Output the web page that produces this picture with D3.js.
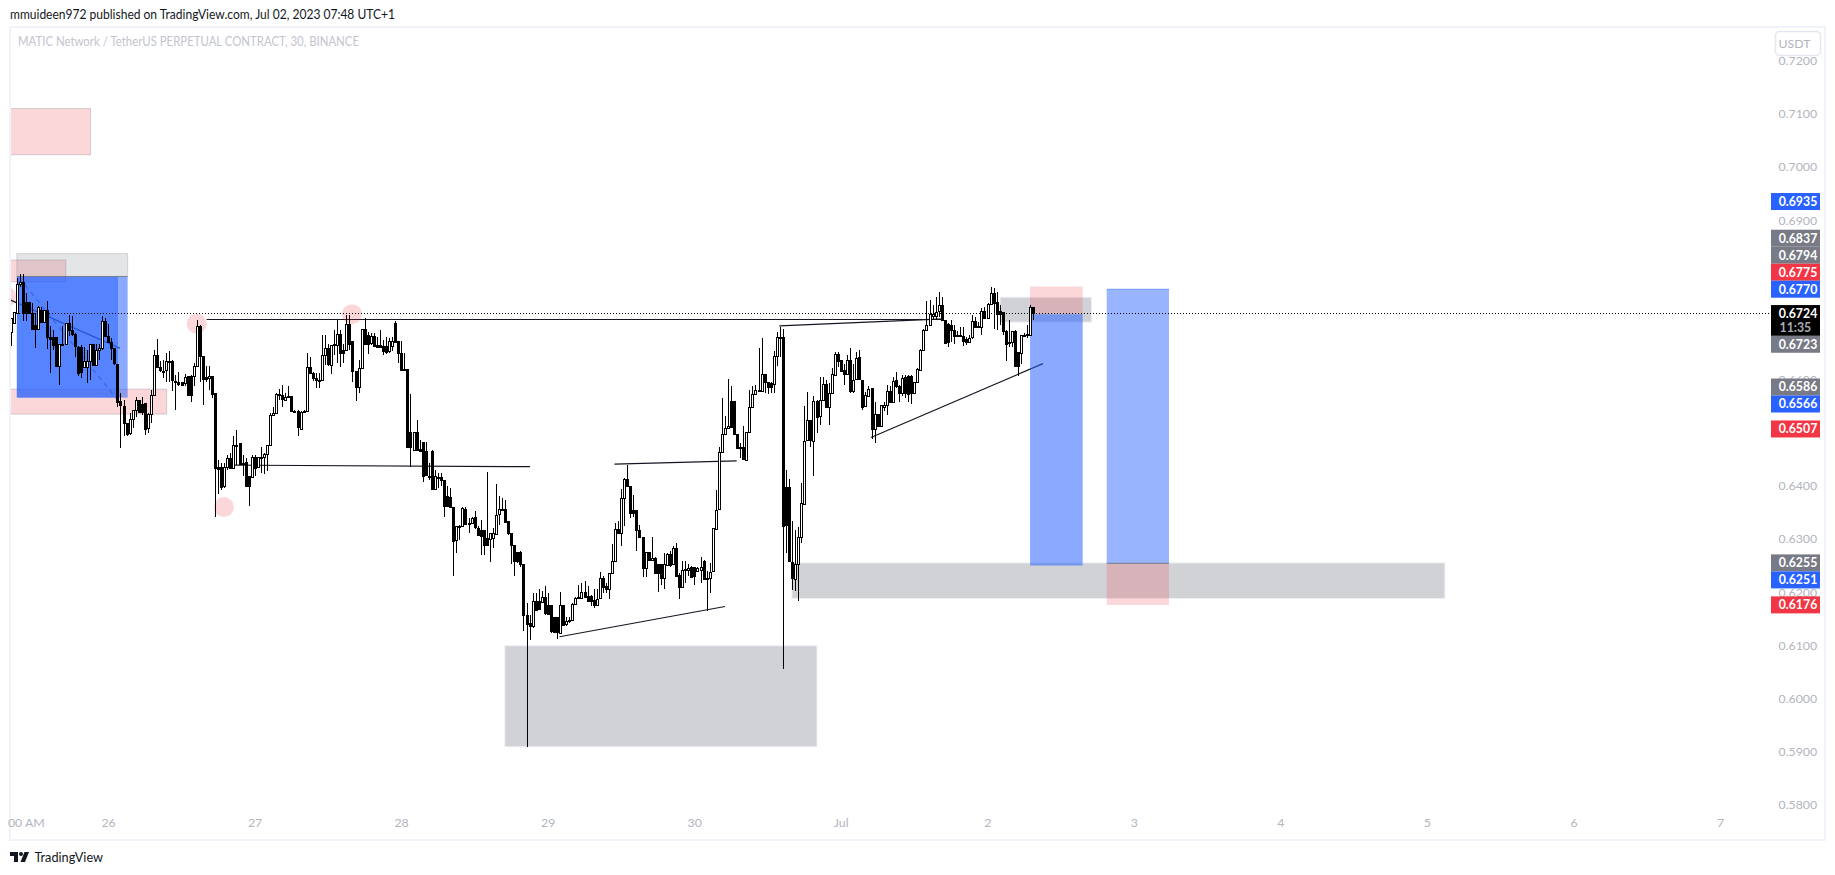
<!DOCTYPE html>
<html><head><meta charset="utf-8">
<script src="https://cdn.jsdelivr.net/npm/d3@7"></script>
<style>html,body{margin:0;padding:0;background:#fff;overflow:hidden}svg{display:block}text{font-family:Lato,Roboto,sans-serif}</style>
</head><body><svg id="c" width="1835" height="875"></svg>
<script>
// OHLC in units of 0.0001 USDT, 30-minute candles from Jun 25 late to Jul 2
const opens = [6688,6706,6725,6779,6783,6746,6746,6725,6703,6695,6731,6708,6730,6680,6680,6680,6625,6665,6667,6706,
6693,6685,6662,6662,6623,6623,6635,6667,6628,6656,6659,6710,6682,6670,6659,6630,6559,6551,6519,6499,
6525,6542,6561,6554,6556,6509,6536,6571,6646,6623,6615,6617,6633,6634,6598,6595,6595,6593,6606,6606,
6606,6625,6701,6645,6604,6604,6607,6574,6436,6436,6399,6435,6452,6433,6476,6480,6443,6444,6418,6418,
6455,6435,6452,6454,6460,6477,6534,6537,6572,6570,6562,6568,6569,6541,6540,6507,6539,6540,6623,6612,
6603,6598,6599,6646,6659,6628,6665,6665,6685,6656,6656,6705,6672,6616,6585,6621,6695,6684,6668,6682,
6665,6665,6663,6663,6653,6662,6707,6672,6650,6620,6620,6502,6469,6502,6470,6483,6465,6416,
6465,6394,6415,6416,6411,6380,6379,6361,6297,6324,6324,6357,6330,6330,6341,6320,6317,6317,6302,6299,
6302,6311,6346,6355,6356,6333,6311,6289,6275,6275,6253,6157,6142,6136,6183,6183,6181,6191,6175,6175,
6153,6153,6124,6176,6139,6145,6147,6178,6189,6190,6201,6193,6193,6186,6176,6188,6226,6211,6205,6236,
6258,6319,6311,6377,6413,6399,6355,6354,6317,6304,6245,6275,6260,6264,6252,6252,6226,6252,6272,6253,
6283,6233,6210,6242,6242,6247,6247,6239,6242,6258,6226,6225,
6239,6320,6355,6463,6497,6509,6560,6560,6498,6473,6473,6450,6502,6549,6573,6580,6579,6611,6596,6593,6592,6645,6680,
6681,6397,6397,6257,6224,6252,6303,6367,6485,6523,6485,6560,6530,6561,6591,6548,6574,6610,6649,6637,
6618,6610,6637,6579,6600,6642,6600,6549,6570,6585,6506,6535,6513,6550,6552,6579,6558,6599,6587,6574,
6604,6607,6607,6575,6595,6619,6656,6694,6703,6721,6721,6728,6740,6712,6704,6703,6693,6684,6682,6682,
6677,6671,6679,6710,6699,6699,6729,6716,6743,6763,6746,6729,6728,6692,6668,6670,6691,6652,6651,6683,6683,6684,6736];
const highs = [6715,6727,6791,6799,6799,6762,6746,6744,6725,6739,6737,6731,6747,6701,6694,6680,6667,6701,6706,6722,
6720,6687,6664,6665,6662,6656,6667,6667,6667,6667,6719,6715,6705,6678,6659,6630,6574,6562,6519,6537,
6543,6568,6562,6568,6556,6537,6581,6656,6676,6634,6637,6650,6653,6637,6609,6615,6596,6611,6606,6609,
6632,6712,6703,6645,6625,6625,6607,6574,6449,6443,6443,6458,6462,6493,6505,6480,6458,6452,6418,6458,
6458,6454,6474,6462,6477,6537,6549,6574,6582,6590,6574,6588,6569,6543,6543,6540,6542,6650,6643,6615,
6612,6612,6684,6684,6667,6665,6694,6712,6694,6667,6722,6722,6672,6616,6637,6695,6715,6690,6687,6687,
6680,6694,6675,6681,6678,6681,6711,6672,6672,6650,6620,6573,6502,6523,6487,6483,6483,6443,
6467,6430,6425,6424,6411,6399,6396,6361,6324,6327,6360,6361,6339,6342,6353,6324,6336,6317,6426,6311,
6320,6404,6380,6377,6373,6333,6311,6289,6275,6278,6253,6179,6157,6198,6198,6205,6203,6212,6198,6176,
6154,6154,6200,6176,6154,6154,6179,6190,6214,6217,6221,6211,6195,6205,6205,6237,6230,6217,6236,6290,
6330,6333,6394,6415,6440,6399,6383,6354,6327,6304,6275,6275,6304,6267,6252,6252,6273,6273,6277,6287,
6292,6236,6258,6258,6252,6250,6248,6248,6267,6261,6239,6255,
6320,6393,6474,6565,6531,6601,6588,6560,6498,6480,6513,6502,6581,6588,6590,6659,6679,6611,6596,6596,6653,6690,6699,
6696,6430,6412,6334,6317,6323,6405,6550,6577,6523,6569,6561,6604,6604,6599,6593,6621,6651,6651,6637,
6630,6646,6659,6630,6652,6656,6600,6577,6587,6585,6558,6536,6552,6558,6590,6588,6604,6614,6590,6608,
6608,6608,6608,6596,6621,6657,6696,6748,6750,6740,6756,6765,6756,6713,6706,6712,6703,6691,6699,6699,
6681,6684,6721,6718,6709,6734,6736,6745,6775,6773,6765,6740,6728,6693,6712,6691,6693,6652,6684,6687,6703,6740,6736];
const lows = [6664,6706,6724,6775,6711,6711,6725,6694,6660,6694,6708,6708,6658,6613,6656,6625,6589,6665,6667,6682,
6682,6643,6606,6603,6623,6593,6599,6628,6625,6637,6656,6681,6668,6637,6628,6549,6472,6493,6493,6496,
6509,6530,6537,6534,6496,6499,6518,6569,6621,6615,6603,6596,6596,6578,6543,6587,6590,6587,6569,6557,
6587,6625,6596,6552,6596,6581,6565,6341,6385,6393,6396,6430,6433,6431,6440,6440,6418,6398,6362,6416,
6418,6433,6424,6423,6427,6477,6532,6537,6562,6549,6561,6565,6539,6537,6493,6505,6539,6539,6611,6598,
6584,6584,6599,6628,6625,6611,6646,6631,6623,6631,6655,6655,6596,6559,6574,6620,6665,6648,6665,6662,
6661,6659,6646,6648,6650,6653,6670,6631,6618,6617,6471,6436,6468,6467,6465,6408,6418,6411,
6393,6393,6396,6399,6342,6361,6361,6230,6273,6299,6324,6327,6312,6329,6319,6305,6270,6270,6287,6256,
6283,6310,6327,6354,6330,6308,6252,6230,6255,6248,6126,5909,6110,6132,6167,6166,6180,6157,6157,6123,
6123,6112,6123,6137,6137,6142,6145,6178,6189,6189,6192,6183,6174,6170,6175,6188,6198,6198,6188,6236,
6258,6310,6286,6324,6399,6339,6342,6277,6302,6228,6228,6258,6258,6235,6201,6214,6206,6252,6248,6252,
6230,6187,6208,6217,6230,6226,6214,6237,6217,6223,6164,6198,
6237,6317,6354,6462,6496,6507,6510,6496,6470,6452,6450,6449,6501,6546,6571,6579,6578,6574,6573,6574,6574,6625,6643,
6055,6273,6257,6204,6203,6184,6292,6367,6485,6474,6419,6500,6514,6561,6546,6514,6574,6608,6624,6615,
6590,6610,6574,6575,6599,6599,6543,6548,6568,6489,6480,6511,6511,6540,6533,6557,6556,6585,6558,6569,
6565,6558,6554,6574,6593,6618,6654,6693,6701,6712,6712,6718,6711,6668,6662,6671,6667,6681,6681,6663,
6665,6668,6677,6698,6698,6684,6715,6715,6743,6696,6693,6703,6684,6635,6662,6662,6626,6607,6630,6681,6679,6684,6713];
const closes = [6715,6727,6779,6783,6724,6725,6725,6695,6695,6737,6709,6731,6680,6677,6665,6625,6667,6667,6706,6692,
6685,6662,6614,6615,6635,6635,6667,6628,6656,6659,6710,6682,6670,6659,6630,6559,6551,6519,6499,6525,
6542,6561,6539,6539,6507,6536,6571,6646,6623,6617,6617,6634,6634,6598,6597,6591,6590,6604,6571,6571,
6625,6701,6645,6601,6601,6607,6574,6433,6433,6399,6435,6452,6433,6476,6477,6440,6441,6399,6399,6455,
6435,6454,6454,6460,6477,6534,6537,6572,6570,6562,6568,6569,6540,6539,6509,6539,6540,6623,6612,6603,
6599,6599,6646,6659,6628,6665,6667,6685,6650,6650,6705,6668,6616,6585,6621,6695,6667,6667,6682,6663,
6662,6662,6653,6651,6672,6672,6672,6650,6618,6618,6473,6473,6502,6468,6466,6419,6419,6418,
6394,6418,6416,6411,6363,6361,6361,6297,6324,6325,6358,6329,6329,6339,6322,6306,6305,6288,6289,6311,
6311,6346,6356,6356,6332,6311,6289,6258,6258,6252,6157,6141,6136,6183,6167,6168,6191,6161,6159,6126,
6124,6124,6176,6139,6145,6147,6178,6189,6190,6201,6192,6183,6183,6176,6188,6226,6210,6205,6236,6258,
6319,6311,6377,6413,6399,6349,6349,6317,6304,6245,6275,6260,6264,6236,6236,6226,6252,6272,6252,6283,
6230,6210,6242,6243,6245,6228,6230,6245,6248,6225,6225,6237,
6320,6355,6463,6497,6509,6512,6512,6498,6472,6471,6450,6502,6549,6573,6581,6581,6611,6596,6586,6586,6645,6681,6681,
6325,6325,6257,6226,6252,6303,6367,6485,6523,6485,6560,6530,6561,6591,6548,6574,6610,6649,6635,6617,
6610,6637,6579,6599,6640,6600,6549,6570,6583,6508,6535,6513,6552,6553,6579,6558,6598,6587,6574,6602,
6574,6573,6575,6595,6619,6656,6694,6703,6724,6724,6728,6740,6712,6669,6671,6693,6682,6682,6684,6673,
6671,6679,6710,6699,6701,6729,6716,6743,6763,6745,6724,6724,6692,6668,6670,6691,6626,6626,6684,6684,6685,6736,6724];

const firstCandleDay = 25.335;           // day-of-month position of the first candle
const priceTicks = [0.72,0.71,0.70,0.69,0.68,0.67,0.66,0.65,0.64,0.63,0.62,0.61,0.60,0.59,0.58];
const dayTicks  = [25.439,26,27,28,29,30,31,32,33,34,35,36,37];
const dayLabels = ["00 AM","26","27","28","29","30","Jul","2","3","4","5","6","7"];

// [dayStart, dayEnd, priceTop, priceBottom]
const greyZones  = [[28.708,30.838,0.6099,0.5909],[30.667,35.123,0.6255,0.6188],[32.087,32.712,0.6755,0.6708]];
const lightGrey  = [[25.378,26.134,0.6837,0.6794]];
const pinkZones  = [[25.3,25.881,0.7110,0.7023],[25.3,25.712,0.6825,0.6784],[25.3,26.4,0.6582,0.6535]];
const blueBoxes  = [[25.378,26.134,0.6794,0.6566],[25.378,26.068,0.6794,0.6566],[32.292,32.651,0.6723,0.6250],[32.815,33.24,0.6770,0.6254]];
const redBoxes   = [[32.292,32.651,0.6775,0.6723],[32.815,33.24,0.6254,0.6176]];
const circleMarks = [[26.605,0.6705],[27.665,0.6723],[26.791,0.6360],[25.305,0.6756]];
// [day1, price1, day2, price2]
const trendLines = [[26.673,0.6713,31.69,0.6713],[30.581,0.6701,31.70,0.6714],[26.852,0.6439,28.88,0.6436],
                    [29.456,0.6441,30.29,0.6447],[29.081,0.6116,30.21,0.6173],[31.206,0.6491,32.38,0.6630],[25.332,0.6750,26.082,0.6659]];
const dashedLines = [[25.434,0.6778,26.055,0.6565]];

const lastPrice = 0.6724;
const countdown = "11:35";
const badgePrices = [0.6935,0.6837,0.6794,0.6775,0.6770,0.6723,0.6586,0.6566,0.6507,0.6255,0.6251,0.6176];
const badgeKinds  = ["b","g","g","r","b","g","g","b","r","g","b","r"];

const BLUE="#2962ff",RED="#f23645",GREY="#787b86",AXIS="#b2b5be",FRAME="#f0f3fa",INK="#131722";
const badgeColor={b:BLUE,g:GREY,r:RED};
const L=10,T=27,R=1825,B=840,AX=1771;

const svg=d3.select("#c");
const x=d3.scaleLinear().domain([26,37]).range([108,1720]);
const y=d3.scaleLinear().domain([0.72,0.58]).range([60.7,804.7]);

svg.append("defs").append("clipPath").attr("id","pane").append("rect").attr("x",L+1).attr("y",T).attr("width",AX-L-1).attr("height",B-T);

// header
svg.append("text").attr("x",10).attr("y",19.3).attr("font-size",13).attr("fill",INK)
  .attr("textLength",385).attr("lengthAdjust","spacingAndGlyphs")
  .text("mmuideen972 published on TradingView.com, Jul 02, 2023 07:48 UTC+1");

// frame
svg.append("rect").attr("x",L).attr("y",T).attr("width",R-L).attr("height",B-T).attr("fill","#fff").attr("stroke",FRAME).attr("stroke-width",2);

svg.append("text").attr("x",18).attr("y",46).attr("font-size",13).attr("fill","#c3c5ce")
  .attr("textLength",341).attr("lengthAdjust","spacingAndGlyphs")
  .text("MATIC Network / TetherUS PERPETUAL CONTRACT, 30, BINANCE");

const pane=svg.append("g").attr("clip-path","url(#pane)");

function boxes(data,fill,stroke){
  pane.append("g").selectAll("rect").data(data).join("rect")
    .attr("x",d=>x(d[0])).attr("y",d=>y(d[2])).attr("width",d=>x(d[1])-x(d[0])).attr("height",d=>y(d[3])-y(d[2]))
    .attr("fill",fill).attr("stroke",stroke||"none").attr("stroke-width",1);
}
function segs(data,stroke,w,dash){
  pane.append("g").selectAll("line").data(data).join("line")
    .attr("x1",d=>x(d[0])).attr("y1",d=>y(d[1])).attr("x2",d=>x(d[2])).attr("y2",d=>y(d[3]))
    .attr("stroke",stroke).attr("stroke-width",w).attr("stroke-dasharray",dash||null);
}

segs(trendLines,INK,1.2);
segs(dashedLines,GREY,1.2,"5 4");

boxes(pinkZones,"rgba(242,54,69,0.2)","rgba(120,123,134,0.3)");
boxes(lightGrey,"rgba(120,123,134,0.2)","rgba(120,123,134,0.25)");
boxes(greyZones,"rgba(120,123,134,0.34)","#eef0f4");
boxes(blueBoxes.slice(0,3),"rgba(41,98,255,0.54)");
boxes(blueBoxes.slice(3),"rgba(41,98,255,0.47)");
boxes(redBoxes,"rgba(242,54,69,0.2)");

// position dividing lines
pane.append("g").selectAll("line").data([blueBoxes[0],blueBoxes[3]]).join("line")
  .attr("x1",d=>x(d[0])).attr("x2",d=>x(d[1])).attr("y1",d=>y(d[2])).attr("y2",d=>y(d[2]))
  .attr("stroke",(d,i)=>i?"rgba(41,98,255,0.5)":"rgba(120,123,134,0.9)").attr("stroke-width",1);
pane.append("line").attr("x1",x(blueBoxes[3][0])).attr("x2",x(blueBoxes[3][1])).attr("y1",y(blueBoxes[3][3])).attr("y2",y(blueBoxes[3][3]))
  .attr("stroke","rgba(120,123,134,0.9)").attr("stroke-width",1);

pane.append("g").selectAll("circle").data(circleMarks).join("circle")
  .attr("cx",d=>x(d[0])).attr("cy",d=>y(d[1])).attr("r",10).attr("fill","rgba(242,54,69,0.2)");

// current price line
const nowLineY=Math.floor(y(lastPrice))+0.5;
pane.append("line").attr("x1",L).attr("x2",AX).attr("y1",nowLineY).attr("y2",nowLineY)
  .attr("stroke","#000").attr("stroke-width",1).attr("stroke-dasharray","1 2");

// candles
const idx=d3.range(opens.length);
const cx=i=>Math.round(x(firstCandleDay+i/48));
const candles=pane.append("g").attr("shape-rendering","crispEdges");
candles.selectAll("line").data(idx).join("line")
  .attr("x1",i=>cx(i)+0.5).attr("x2",i=>cx(i)+0.5)
  .attr("y1",i=>y(highs[i]/1e4)).attr("y2",i=>y(lows[i]/1e4))
  .attr("stroke","#000").attr("stroke-width",1);
candles.selectAll("rect").data(idx).join("rect")
  .attr("x",i=>cx(i)-0.5).attr("width",2)
  .attr("y",i=>Math.round(y(Math.max(opens[i],closes[i])/1e4))+0.5)
  .attr("height",i=>Math.max(1,Math.round(Math.abs(y(opens[i]/1e4)-y(closes[i]/1e4)))))
  .attr("fill",i=>closes[i]>=opens[i]?"#fff":"#000")
  .attr("stroke","#000").attr("stroke-width",1);

// price axis
const yAxis=svg.append("g").attr("transform",`translate(${AX},0)`)
  .call(d3.axisRight(y).tickValues(priceTicks).tickSize(0).tickPadding(7.5).tickFormat(d3.format(".4f")));
yAxis.select(".domain").remove();
yAxis.selectAll("text").attr("font-size",12.3).attr("fill",AXIS).style("font-family","Lato,Roboto,sans-serif");

// time axis
const xAxis=svg.append("g").attr("transform","translate(0,818)")
  .call(d3.axisBottom(x).tickValues(dayTicks).tickSize(0).tickPadding(0).tickFormat((d,i)=>dayLabels[i]));
xAxis.select(".domain").remove();
xAxis.selectAll("text").attr("font-size",12.3).attr("fill",AXIS).style("font-family","Lato,Roboto,sans-serif");

// USDT button
svg.append("rect").attr("x",1775.5).attr("y",31.5).attr("width",45).attr("height",24).attr("rx",4).attr("fill","#fff").attr("stroke","#e4e7f0").attr("stroke-width",1.5);
svg.append("text").attr("x",1778.5).attr("y",47.5).attr("font-size",12.3).attr("fill",AXIS).text("USDT");

// price badges stacked so they never overlap
const BH=17;
const order=d3.range(badgePrices.length);
const pos=badgePrices.map(p=>y(p));
const nowY=y(lastPrice), nowH=30.7, nowTop=nowY-8.6;
for(let i=badgePrices.length-2;i>=0;i--){ if(badgePrices[i]>lastPrice && badgePrices[i+1]>lastPrice) pos[i]=Math.min(pos[i],pos[i+1]-BH); }
for(let i=0;i<badgePrices.length;i++){
  if(badgePrices[i]<lastPrice){
    const prevEnd=(i>0&&badgePrices[i-1]<lastPrice)?pos[i-1]+BH:nowTop+nowH+BH/2;
    pos[i]=Math.max(pos[i],prevEnd);
  }
}
const badge=svg.append("g").selectAll("g").data(order).join("g").attr("transform",i=>`translate(${AX},${pos[i]})`);
badge.append("rect").attr("y",-BH/2).attr("width",49).attr("height",BH).attr("fill",i=>badgeColor[badgeKinds[i]]);
badge.append("text").attr("x",7.7).attr("y",4.3).attr("font-size",12.3).attr("font-weight",700).attr("fill","#fff").text(i=>badgePrices[i].toFixed(4));

const now=svg.append("g").attr("transform",`translate(${AX},${nowTop})`);
now.append("rect").attr("width",49).attr("height",nowH).attr("fill","#000");
now.append("text").attr("x",7.7).attr("y",12.8).attr("font-size",12.3).attr("font-weight",700).attr("fill","#fff").text(lastPrice.toFixed(4));
now.append("text").attr("x",8.5).attr("y",27).attr("font-size",12.3).attr("font-weight",700).attr("fill","#a9abb3").text(countdown);

// TradingView logo
const logo=svg.append("g").attr("transform","translate(10,852)").attr("fill",INK);
logo.append("path").attr("d","M0 0H8V10H4V4H0Z");
logo.append("circle").attr("cx",11).attr("cy",2).attr("r",2);
logo.append("path").attr("d","M14.5 0H19L15 10H10.5Z");
svg.append("text").attr("x",34.5).attr("y",862).attr("font-size",13.6).attr("fill",INK)
  .attr("textLength",68.5).attr("lengthAdjust","spacingAndGlyphs").text("TradingView");
</script></body></html>
